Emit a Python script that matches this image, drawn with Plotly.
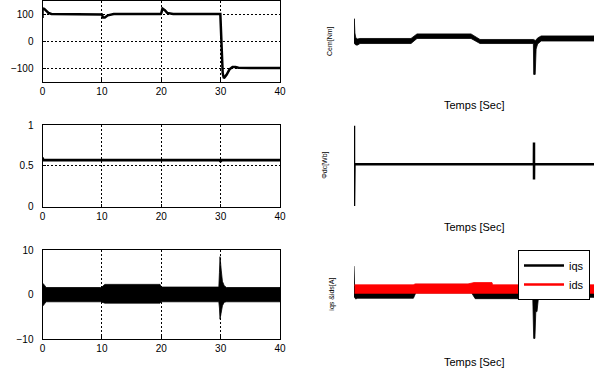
import plotly.graph_objects as go

# ---------------- data ----------------
# left 1: rotor speed
w_t = [0, 0, 0.05, 0.3, 0.6, 1.0, 1.5, 2.0, 9.9, 10.0, 10.2, 10.5, 11.0, 12.0,
       19.9, 20.0, 20.2, 20.6, 21.0, 22.0, 29.95, 30.0, 30.1, 30.2, 30.35, 30.55,
       31.0, 31.5, 32.0, 32.5, 33.0, 35.0, 40]
w_v = [85, 120, 120, 119, 112, 104, 100, 100, 100, 98, 87, 87, 95, 100,
       100, 103, 120, 114, 104, 100, 100, 60, 5, -60, -120, -138,
       -125, -105, -96, -96, -99, -100, -100]

# left 2: flux
f_t = [0, 0.05, 0.1, 29.9, 30.0, 30.1, 40]
f_v = [0.6, 0.57, 0.57, 0.57, 0.55, 0.57, 0.57]

# left 3: current envelope (noisy band)
c_t = [0, 0.1, 0.4, 0.6, 9.8, 10.0, 10.5, 19.8, 20.0, 23.0, 29.7, 29.8, 29.9,
       30.1, 30.3, 30.6, 31.0, 40]
c_up = [2.5, 2.5, 2.0, 1.6, 1.6, 1.7, 2.3, 2.3, 1.7, 1.7, 1.7, 5.0, 8.5,
        5.5, 3.0, 2.0, 1.6, 1.6]
c_lo = [-2.5, -2.5, -2.0, -1.6, -1.6, -1.7, -1.9, -1.9, -1.6, -1.6, -1.6, -3.0, -5.5,
        -4.0, -2.5, -1.7, -1.6, -1.6]

# right 1: electromagnetic torque envelope
cem_t = [0, 0.05, 0.15, 0.3, 0.6, 1.0, 9.5, 10.5, 19.5, 21.0, 29.9, 29.95, 30.2,
         30.35, 30.6, 31.2, 40]
cem_up = [0, 22, 8, 3, 2, 2.5, 2.5, 7, 7, 1.5, 1.5, 1.5, 0.5, 1, 3, 5, 5]
cem_lo = [-2, -3, -3, -4, -4, -2.5, -2.5, 2.5, 2.5, -2.5, -2.5, -33, -33, -8, -3, 0, 0]

# right 2: flux dc
phi_t = [0, 0, 0, 0.03, 0.08, 29.98, 30.0, 30.0, 30.02, 40]
phi_v = [0.52, 1.0, 0.0, 0.82, 0.52, 0.52, 0.79, 0.33, 0.52, 0.52]

# right 3: iqs / ids envelopes
iq_t = [0, 0.1, 0.3, 0.5, 9.9, 10.3, 19.6, 20.2, 29.8, 29.95, 30.15, 30.3, 30.5,
        30.7, 31.0, 40]
iq_up = [6.4, 2.0, 1.6, 1.6, 1.6, 2.3, 2.3, 1.6, 1.6, 1.6, 1.2, 0.5, 0.5,
         1.2, 1.6, 1.6]
iq_lo = [-0.6, -0.6, -1.0, -0.8, -0.8, 0.4, 0.4, -0.9, -0.9, -9.8, -9.8, -3.8, -3.8,
         -1.2, -0.6, -0.6]
id_t = [0.1, 10.0, 10.1, 19.0, 20.0, 23.0, 23.1, 40]
id_up = [2.2, 2.2, 2.4, 2.4, 2.7, 2.7, 2.2, 2.2]
id_lo = [0.3, 0.3, 0.3, 0.3, 0.3, 0.3, 0.3, 0.3]

x_ticks = [0, 10, 20, 30, 40]
y1_ticks = [-100, 0, 100]
y2_ticks = [0, 0.5, 1]
y3_ticks = [-10, 0, 10]

FONT = "Liberation Sans, Arial, sans-serif"
W, H = 600, 370

fig = go.Figure()


def band(t, up, lo, color, xa, ya, name):
    return go.Scatter(x=t + t[::-1], y=up + lo[::-1], fill="toself", fillcolor=color,
                      mode="lines", line=dict(color=color, width=0.8),
                      xaxis=xa, yaxis=ya, showlegend=False, name=name,
                      hoverinfo="skip")


fig.add_trace(go.Scatter(x=w_t, y=w_v, mode="lines", line=dict(color="black", width=2.5),
                         xaxis="x", yaxis="y", showlegend=False))
fig.add_trace(go.Scatter(x=f_t, y=f_v, mode="lines", line=dict(color="black", width=2.8),
                         xaxis="x2", yaxis="y2", showlegend=False))
fig.add_trace(band(c_t, c_up, c_lo, "black", "x3", "y3", "i"))
fig.add_trace(band(cem_t, cem_up, cem_lo, "black", "x4", "y4", "Cem"))
fig.add_trace(go.Scatter(x=phi_t, y=phi_v, mode="lines", line=dict(color="black", width=2.5),
                         xaxis="x5", yaxis="y5", showlegend=False))
fig.add_trace(band(iq_t, iq_up, iq_lo, "black", "x6", "y6", "iqs"))
fig.add_trace(band(id_t, id_up, id_lo, "red", "x6", "y6", "ids"))
# legend entries
fig.add_trace(go.Scatter(x=[None], y=[None], mode="lines", line=dict(color="black", width=2.5),
                         xaxis="x6", yaxis="y6", name="iqs"))
fig.add_trace(go.Scatter(x=[None], y=[None], mode="lines", line=dict(color="red", width=2.5),
                         xaxis="x6", yaxis="y6", name="ids"))


def ydom(top_px, bot_px):
    return [1 - bot_px / H, 1 - top_px / H]


LX = [42.5 / W, 280 / W]
RX = [354 / W, 594 / W]
D1 = ydom(0.5, 81.5)
D2 = ydom(125, 206.7)
D3 = ydom(250, 339.3)

grid = dict(showgrid=True, gridcolor="black", gridwidth=1, griddash="2px,2px",
            zeroline=False, showline=True, linecolor="black", linewidth=1, mirror=True,
            ticks="inside", ticklen=3, tickcolor="black", automargin=False,
            tickfont=dict(family=FONT, size=10, color="black"))
hidden = dict(visible=False, range=[0, 40], automargin=False)

lay = dict(
    width=W, height=H, margin=dict(l=0, r=0, t=0, b=0, autoexpand=False),
    paper_bgcolor="white", plot_bgcolor="white",
    font=dict(family=FONT, size=10, color="black"),
    xaxis=dict(domain=LX, anchor="y", range=[0, 40], tickvals=x_ticks, **grid),
    yaxis=dict(domain=D1, anchor="x", range=[-150, 150], tickvals=y1_ticks,
               ticklabelstandoff=6, **grid),
    xaxis2=dict(domain=LX, anchor="y2", range=[0, 40], tickvals=x_ticks, **grid),
    yaxis2=dict(domain=D2, anchor="x2", range=[0, 1], tickvals=y2_ticks,
                ticklabelstandoff=6, **grid),
    xaxis3=dict(domain=LX, anchor="y3", range=[0, 40], tickvals=x_ticks, **grid),
    yaxis3=dict(domain=D3, anchor="x3", range=[-10, 10], tickvals=y3_ticks,
                ticklabelstandoff=6, **grid),
    xaxis4=dict(domain=RX, anchor="y4", **hidden),
    yaxis4=dict(domain=D1, anchor="x4", range=[-40, 40], visible=False, automargin=False),
    xaxis5=dict(domain=RX, anchor="y5", **hidden),
    yaxis5=dict(domain=D2, anchor="x5", range=[-0.01, 1.01], visible=False, automargin=False),
    xaxis6=dict(domain=RX, anchor="y6", **hidden),
    yaxis6=dict(domain=D3, anchor="x6", range=[-10, 10], visible=False, automargin=False),
    legend=dict(x=590 / W, xanchor="right", y=1 - 250 / H, yanchor="top",
                bgcolor="white", bordercolor="black", borderwidth=1,
                font=dict(family=FONT, size=11, color="black"),
                tracegroupgap=0, itemwidth=40),
    showlegend=True,
)
fig.update_layout(**lay)

xl_y = [105, 227, 362]
yl = [("Cem[Nm]", 330, D1), ("Φdc[Wb]", 325, D2), ("iqs &ids[A]", 332, D3)]
for yy in xl_y:
    fig.add_annotation(text="Temps [Sec]", x=(RX[0] + RX[1]) / 2, y=1 - yy / H,
                       xref="paper", yref="paper", showarrow=False,
                       font=dict(family=FONT, size=11, color="black"),
                       xanchor="center", yanchor="middle")
for txt, xp, dom in yl:
    fig.add_annotation(text=txt, x=xp / W, y=(dom[0] + dom[1]) / 2, xref="paper",
                       yref="paper", showarrow=False, textangle=-90,
                       font=dict(family=FONT, size=7, color="black"),
                       xanchor="center", yanchor="middle")

fig.write_html("out.html", config={"displayModeBar": False},
               post_script="document.body.style.margin='0';document.body.style.overflow='hidden';")
